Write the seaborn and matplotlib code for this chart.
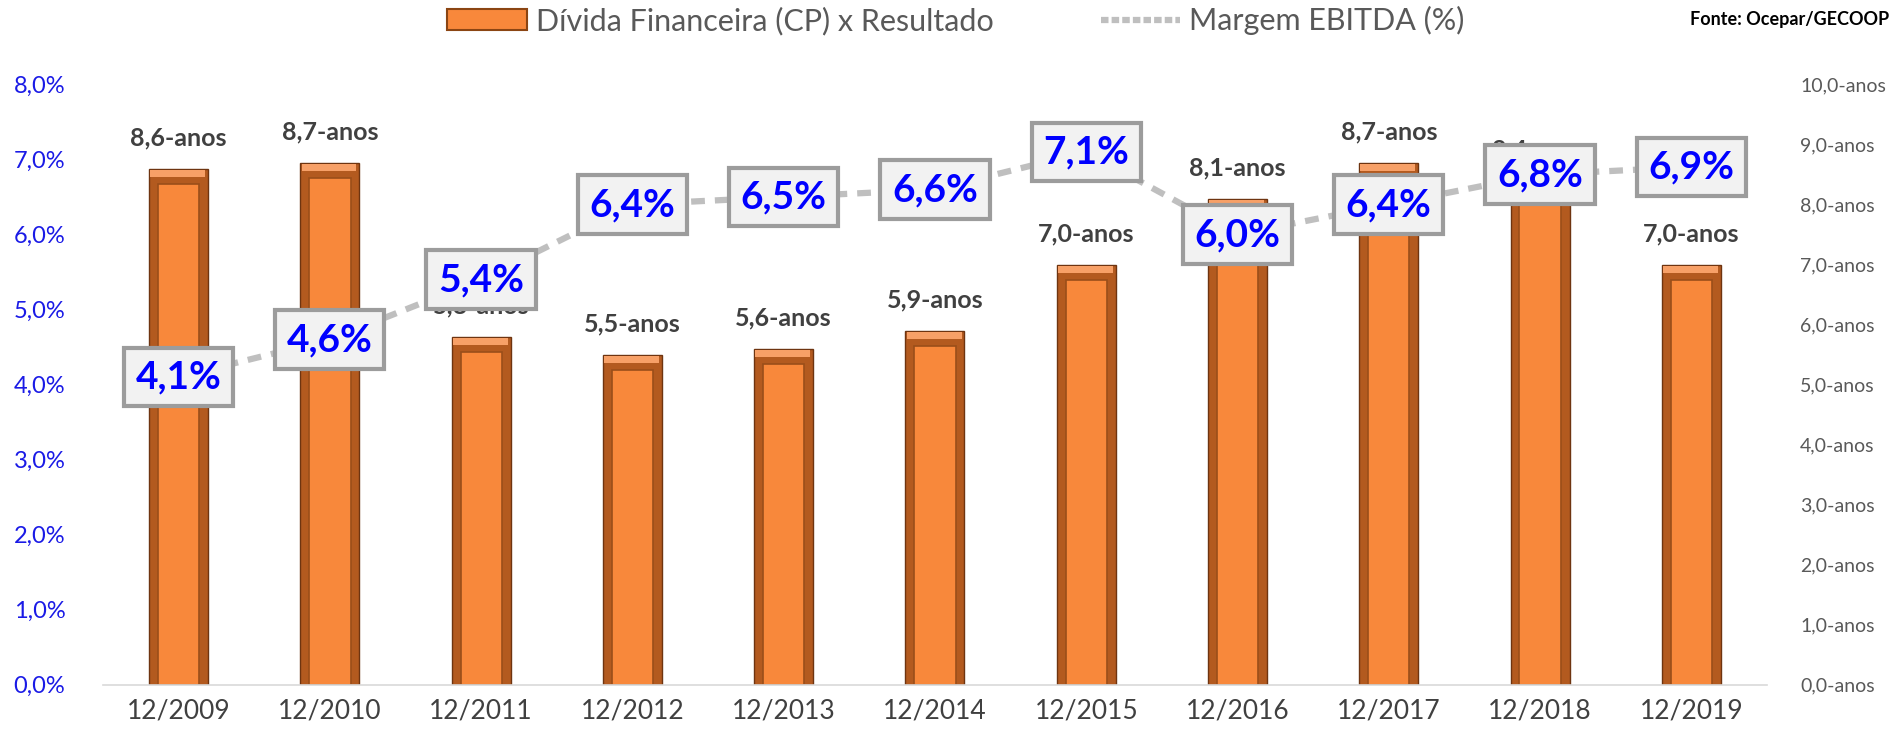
import matplotlib
matplotlib.use('Agg')
import matplotlib.pyplot as plt
import seaborn as sns
import pandas as pd
from matplotlib.patches import Rectangle, Patch
from matplotlib.lines import Line2D

# data
anos = ['12/2009', '12/2010', '12/2011', '12/2012', '12/2013', '12/2014',
        '12/2015', '12/2016', '12/2017', '12/2018', '12/2019']
divida_anos = [8.6, 8.7, 5.8, 5.5, 5.6, 5.9, 7.0, 8.1, 8.7, 8.4, 7.0]
margem_ebitda = [4.1, 4.6, 5.4, 6.4, 6.5, 6.6, 7.1, 6.0, 6.4, 6.8, 6.9]
left_ticks = [0, 1, 2, 3, 4, 5, 6, 7, 8]
right_ticks = [0, 1, 2, 3, 4, 5, 6, 7, 8, 9, 10]

df = pd.DataFrame({'ano': anos, 'divida': divida_anos, 'margem': margem_ebitda})

def br(v, dec=1):
    return f'{v:.{dec}f}'.replace('.', ',')

sns.set_theme(style='white')
plt.rcParams['font.family'] = ['Lato', 'DejaVu Sans']

fig = plt.figure(figsize=(18.93, 7.41), dpi=100)
ax = fig.add_axes([0.0544, 0.076, 0.879, 0.81])

# bars (right axis, anos)
sns.barplot(data=df, x='ano', y='divida', ax=ax, color='#B35A1F',
            width=0.39, saturation=1, edgecolor='#6E3410', linewidth=1)

# bevel effect: lighter top rim and inner face on each bar
for p in list(ax.patches):
    x0, w, h = p.get_x(), p.get_width(), p.get_height()
    ax.add_patch(Rectangle((x0 + w * 0.02, h - 0.14), w * 0.93, 0.12,
                           facecolor='#F7A067', edgecolor='none', zorder=p.get_zorder() + 0.1))
    ax.add_patch(Rectangle((x0 + w * 0.15, 0), w * 0.7, h - 0.26,
                           facecolor='#F8883B', edgecolor='#9A4E1A', linewidth=1.2,
                           zorder=p.get_zorder() + 0.2))

ax.bar_label(ax.containers[0], labels=[br(v) + '-anos' for v in divida_anos],
             padding=14, fontsize=18, fontweight='bold', color='#404040')

ax.set_ylim(0, 10)
ax.set_xlim(-0.5, len(anos) - 0.5)
ax.set_xlabel('')
ax.set_ylabel('')
ax.tick_params(axis='x', length=0, pad=10, labelsize=19, labelcolor='#404040')
for s in ['top', 'left', 'right']:
    ax.spines[s].set_visible(False)
ax.spines['bottom'].set_color('#D9D9D9')
ax.spines['bottom'].set_linewidth(1.2)

# line (left axis, %)
ax2 = ax.twinx()
sns.lineplot(x=range(len(anos)), y=margem_ebitda, ax=ax2, color='#BFBFBF',
             linewidth=4.5, linestyle=(0, (2.2, 1.6)), zorder=3)
for i, v in enumerate(margem_ebitda):
    ax2.text(i, v, br(v) + '%', ha='center', va='center', fontsize=28,
             fontweight='bold', color='#0000FF', zorder=5,
             bbox=dict(boxstyle='square,pad=0.3', facecolor='#F2F2F2',
                       edgecolor='#9C9C9C', linewidth=3))
ax2.set_ylim(0, 8)
ax2.set_ylabel('')
for s in ['top', 'left', 'right', 'bottom']:
    ax2.spines[s].set_visible(False)

# axis sides: bars on the right scale, line on the left scale
ax.yaxis.tick_right()
ax.yaxis.set_label_position('right')
ax.set_yticks(right_ticks)
ax.set_yticklabels([br(v) + '-anos' for v in right_ticks], fontsize=14, color='#595959')
ax.tick_params(axis='y', length=0, pad=24, labelleft=False, labelright=True)

ax2.yaxis.tick_left()
ax2.yaxis.set_label_position('left')
ax2.set_yticks(left_ticks)
ax2.set_yticklabels([br(v) + '%' for v in left_ticks], fontsize=17, color='#1A1AE6')
ax2.tick_params(axis='y', length=0, pad=27, labelleft=True, labelright=False)

# legend
handles = [Patch(facecolor='#F8883B', edgecolor='#8B4513', linewidth=1.5),
           Line2D([0], [0], color='#BFBFBF', linewidth=4.5, linestyle=(0, (1.2, 0.5)))]
fig.legend(handles, ['Dívida Financeira (CP) x Resultado', 'Margem EBITDA (%)'],
           loc='center', bbox_to_anchor=(0.505, 0.972), ncol=2, frameon=False,
           fontsize=22, labelcolor='#595959', handlelength=2.6, handleheight=0.7,
           columnspacing=3.5, handletextpad=0.3)

fig.text(0.998, 0.985, 'Fonte: Ocepar/GECOOP', ha='right', va='top',
         fontsize=13, fontweight='bold', color='#000000')

fig.savefig('out.png', dpi=100)
